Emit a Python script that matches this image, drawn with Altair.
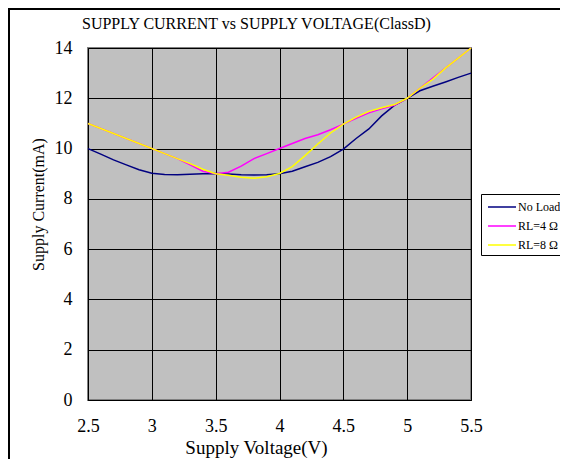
import altair as alt
import pandas as pd

# ---- data ----
voltage = [2.5, 2.6, 2.7, 2.8, 2.9, 3.0, 3.1, 3.2, 3.3, 3.4, 3.5, 3.6, 3.7, 3.8, 3.9, 4.0,
           4.1, 4.2, 4.3, 4.4, 4.5, 4.6, 4.7, 4.8, 4.9, 5.0, 5.1, 5.2, 5.3, 5.4, 5.5]
no_load = [10.0, 9.78, 9.55, 9.35, 9.16, 9.02, 8.97, 8.96, 8.98, 9.0, 9.01, 8.99, 8.96, 8.95, 8.96, 9.0,
           9.1, 9.28, 9.45, 9.68, 9.98, 10.4, 10.78, 11.3, 11.72, 12.0, 12.3, 12.48, 12.65, 12.83, 13.0]
rl_4 = [11.0, 10.8, 10.6, 10.4, 10.2, 10.0, 9.8, 9.6, 9.35, 9.1, 9.0, 9.06, 9.3, 9.6, 9.8, 10.0,
        10.2, 10.4, 10.55, 10.75, 10.97, 11.2, 11.42, 11.58, 11.72, 12.0, 12.4, 12.8, 13.2, 13.6, 14.0]
rl_8 = [11.0, 10.8, 10.6, 10.4, 10.2, 10.0, 9.8, 9.6, 9.4, 9.18, 9.0, 8.94, 8.86, 8.82, 8.88, 9.01,
        9.28, 9.72, 10.18, 10.62, 10.97, 11.25, 11.48, 11.62, 11.75, 12.0, 12.4, 12.75, 13.2, 13.6, 14.0]
series_names = ["No Load", "RL=4 Ω", "RL=8 Ω"]
series_colors = ["#000080", "#FF00FF", "#FFFF00"]
x_ticks = [2.5, 3, 3.5, 4, 4.5, 5, 5.5]
y_ticks = [0, 2, 4, 6, 8, 10, 12, 14]

rows = []
for name, vals in zip(series_names, [no_load, rl_4, rl_8]):
    for i, (v, c) in enumerate(zip(voltage, vals)):
        rows.append({"V": v, "I": c, "Series": name, "order": i})
df = pd.DataFrame(rows)

FONT = "Liberation Serif"

lines = alt.Chart(df).mark_line(strokeWidth=1.5).encode(
    x=alt.X("V:Q",
            scale=alt.Scale(domain=[2.5, 5.5], nice=False, zero=False),
            axis=alt.Axis(values=x_ticks, format=".1~f", title="Supply Voltage(V)",
                          labelFont=FONT, labelFontSize=18, labelColor="black",
                          labelPadding=17, ticks=False, tickSize=0,
                          domainColor="black", grid=True, gridColor="black", gridWidth=1, gridOpacity=1,
                          titleFont=FONT, titleFontSize=19, titleFontWeight="normal", titleColor="black",
                          titleX=168, titleY=53, titleAlign="center", titleBaseline="alphabetic",
                          labelFlush=False)),
    y=alt.Y("I:Q",
            scale=alt.Scale(domain=[0, 14], nice=False),
            axis=alt.Axis(values=y_ticks, title="Supply Current(mA)",
                          labelFont=FONT, labelFontSize=18, labelColor="black",
                          labelPadding=16, ticks=False, tickSize=0,
                          domainColor="black", grid=True, gridColor="black", gridWidth=1, gridOpacity=1,
                          titleFont=FONT, titleFontSize=16, titleFontWeight="normal", titleColor="black",
                          titleX=-50, titleY=156, titleAlign="center", titleBaseline="middle",
                          labelFlush=False)),
    color=alt.Color("Series:N",
                    scale=alt.Scale(domain=series_names, range=series_colors),
                    legend=alt.Legend(title=None, orient="none", legendX=393, legendY=146,
                                      fillColor="white", strokeColor="black",
                                      padding=4, symbolType="M-1.75,0H1.75", symbolSize=256,
                                      symbolStrokeWidth=1.5, symbolOffset=8, labelOffset=7,
                                      rowPadding=4, labelFont=FONT, labelFontSize=12,
                                      labelColor="black", labelLimit=300)),
    order="order:Q",
)

frame = alt.Chart(pd.DataFrame({"k": [0]})).mark_rect(
    fillOpacity=0, stroke="black", strokeWidth=2, clip=False
).encode(x=alt.value(-79), x2=alt.value(700), y=alt.value(-39), y2=alt.value(700))

chart = alt.layer(frame, lines).properties(
    width=383, height=352,
    autosize=alt.AutoSizeParams(type="none"),
    padding={"left": 80, "top": 40, "right": 89, "bottom": 59},
    background="white",
    title=alt.TitleParams("SUPPLY CURRENT vs SUPPLY VOLTAGE(ClassD)", anchor="start", frame="group",
                          font=FONT, fontSize=16, fontWeight="normal", color="black",
                          offset=14, baseline="bottom", dx=-6, dy=54),
).configure_view(fill="#C0C0C0", stroke="#808080", strokeWidth=2)

chart.save("out.html", embed_options={"renderer": "svg", "actions": False})
